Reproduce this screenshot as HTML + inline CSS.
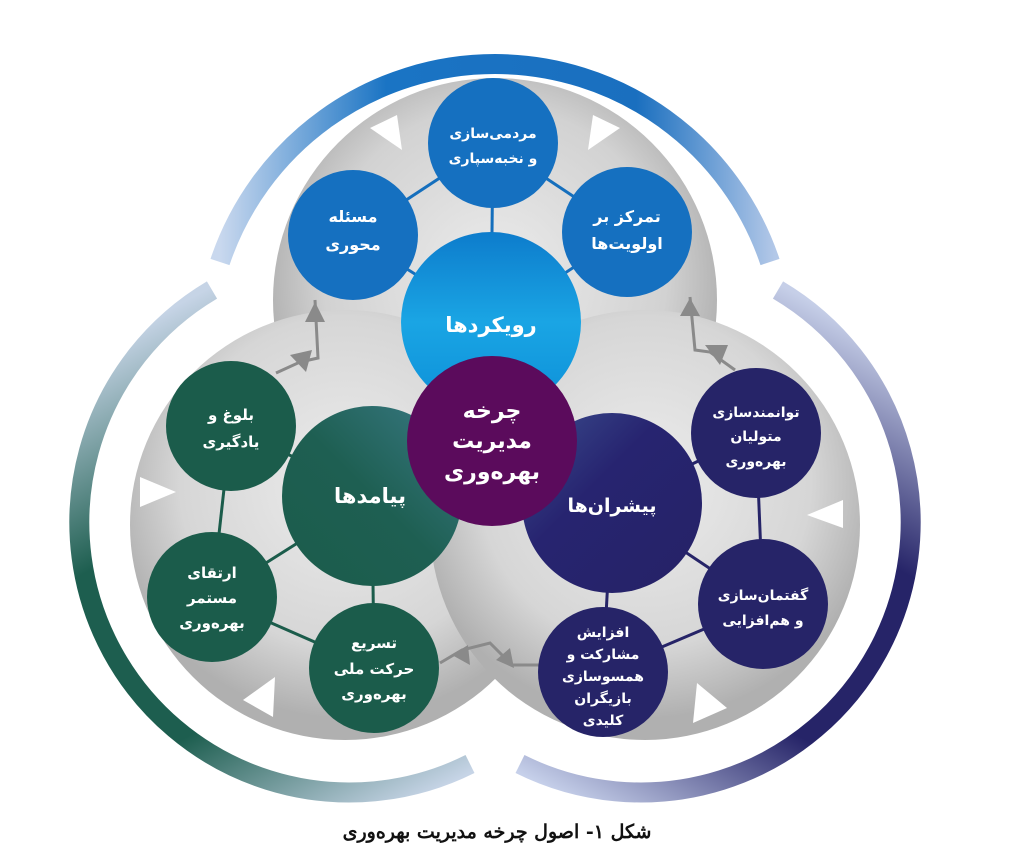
<!DOCTYPE html>
<html><head><meta charset="utf-8"><style>
html,body{margin:0;padding:0;background:#fff;width:1015px;height:861px;overflow:hidden}
svg text{font-family:"DejaVu Sans",sans-serif;font-weight:bold;fill:#fff;text-anchor:middle;direction:rtl}
</style></head><body>
<svg width="1015" height="861" viewBox="0 0 1015 861">
<defs>
<radialGradient id="gr" cx="50%" cy="45%" r="55%"><stop offset="0" stop-color="#ececec"/><stop offset="0.7" stop-color="#d2d2d2"/><stop offset="1" stop-color="#a9a9a9"/></radialGradient>
<radialGradient id="gr2" cx="50%" cy="40%" r="55%"><stop offset="0" stop-color="#ececec"/><stop offset="0.7" stop-color="#d6d6d6"/><stop offset="1" stop-color="#b0b0b0"/></radialGradient>
<linearGradient id="gb" gradientUnits="userSpaceOnUse" x1="220" y1="0" x2="775" y2="0"><stop offset="0" stop-color="#c9d8ee"/><stop offset="0.3" stop-color="#1a74c4"/><stop offset="0.75" stop-color="#1a6fbf"/><stop offset="1" stop-color="#b3c8e8"/></linearGradient>
<linearGradient id="gg" gradientUnits="userSpaceOnUse" x1="215" y1="285" x2="475" y2="770"><stop offset="0" stop-color="#c6d4e6"/><stop offset="0.35" stop-color="#1d5e4f"/><stop offset="0.7" stop-color="#1d5e4f"/><stop offset="1" stop-color="#c6d4e6"/></linearGradient>
<linearGradient id="gn" gradientUnits="userSpaceOnUse" x1="780" y1="285" x2="515" y2="770"><stop offset="0" stop-color="#c6cfe8"/><stop offset="0.35" stop-color="#262468"/><stop offset="0.7" stop-color="#262468"/><stop offset="1" stop-color="#c6d0ea"/></linearGradient>
<linearGradient id="lb" x1="0" y1="0" x2="0" y2="1"><stop offset="0" stop-color="#0d7ccc"/><stop offset="0.5" stop-color="#1aa5e4"/><stop offset="1" stop-color="#0c8fd8"/></linearGradient>
<linearGradient id="pg" x1="1" y1="0" x2="0" y2="1"><stop offset="0" stop-color="#3a7a86"/><stop offset="0.5" stop-color="#1e5f52"/><stop offset="1" stop-color="#1b5c4b"/></linearGradient>
<linearGradient id="pn" x1="0" y1="0" x2="1" y2="1"><stop offset="0" stop-color="#3b4e8e"/><stop offset="0.4" stop-color="#272470"/><stop offset="1" stop-color="#252266"/></linearGradient>
</defs>

<!-- outer arcs -->
<path d="M220,262 A290,290 0 0 1 770,262" fill="none" stroke="url(#gb)" stroke-width="20"/>
<path d="M212,290 A270,270 0 0 0 470,764" fill="none" stroke="url(#gg)" stroke-width="20"/>
<path d="M778,290 A270,270 0 0 1 520,764" fill="none" stroke="url(#gn)" stroke-width="20"/>

<!-- grey circles -->
<circle cx="495" cy="300" r="222" fill="url(#gr)"/>
<circle cx="345" cy="525" r="215" fill="url(#gr2)"/>
<circle cx="645" cy="525" r="215" fill="url(#gr2)"/>

<!-- white triangles -->
<polygon points="370,128 397,115 402,150" fill="#fff"/>
<polygon points="620,128 593,115 588,150" fill="#fff"/>
<polygon points="140,477 140,507 176,492" fill="#fff"/>
<polygon points="243,700 275,677 273,717" fill="#fff"/>
<polygon points="693,723 697,683 727,708" fill="#fff"/>
<polygon points="843,500 843,528 807,515" fill="#fff"/>

<!-- grey arrow connectors -->
<g stroke="#8a8a8a" stroke-width="3" fill="none">
<polyline points="276,373 300,362 318,358 315,300"/>
<polyline points="690,297 695,350 710,352 735,370"/>
<polyline points="440,663 462,650 490,643 512,665 540,665"/>
</g>
<g fill="#8a8a8a">
<polygon points="305,322 325,322 315,302"/>
<polygon points="290,355 306,372 312,350"/>
<polygon points="680,316 700,316 690,298"/>
<polygon points="705,345 720,365 728,345"/>
<polygon points="452,655 470,665 468,645"/>
<polygon points="496,660 514,668 510,648"/>
</g>

<!-- connector lines -->
<g stroke="#156fbd" stroke-width="3">
<line x1="493" y1="143" x2="353" y2="235"/><line x1="493" y1="143" x2="627" y2="232"/><line x1="493" y1="143" x2="491" y2="322"/>
<line x1="353" y1="235" x2="491" y2="322"/><line x1="627" y1="232" x2="491" y2="322"/>
</g>
<g stroke="#1b5c4b" stroke-width="3">
<line x1="231" y1="426" x2="212" y2="597"/><line x1="212" y1="597" x2="374" y2="668"/>
<line x1="231" y1="426" x2="372" y2="496"/><line x1="212" y1="597" x2="372" y2="496"/><line x1="374" y1="668" x2="372" y2="496"/>
</g>
<g stroke="#262468" stroke-width="3">
<line x1="756" y1="433" x2="763" y2="604"/><line x1="763" y1="604" x2="603" y2="672"/>
<line x1="756" y1="433" x2="612" y2="503"/><line x1="603" y1="672" x2="612" y2="503"/><line x1="763" y1="604" x2="612" y2="503"/>
</g>

<circle cx="493" cy="143" r="65" fill="#1570c0"/>
<circle cx="353" cy="235" r="65" fill="#1570c0"/>
<circle cx="627" cy="232" r="65" fill="#1570c0"/>
<circle cx="491" cy="322" r="90" fill="url(#lb)"/>
<circle cx="372" cy="496" r="90" fill="url(#pg)"/>
<circle cx="612" cy="503" r="90" fill="url(#pn)"/>
<circle cx="492" cy="441" r="85" fill="#5b0b5c"/>
<circle cx="231" cy="426" r="65" fill="#1b5c4b"/>
<circle cx="212" cy="597" r="65" fill="#1b5c4b"/>
<circle cx="374" cy="668" r="65" fill="#1b5c4b"/>
<circle cx="756" cy="433" r="65" fill="#262468"/>
<circle cx="763" cy="604" r="65" fill="#262468"/>
<circle cx="603" cy="672" r="65" fill="#262468"/>

<!-- labels -->
<g font-size="14">
<text x="493" y="138">مردمی‌سازی</text><text x="493" y="163">و نخبه‌سپاری</text>
<text x="353" y="222" font-size="16">مسئله</text><text x="353" y="250" font-size="16">محوری</text>
<text x="627" y="222" font-size="16">تمرکز بر</text><text x="627" y="249" font-size="16">اولویت‌ها</text>
<text x="231" y="420" font-size="15">بلوغ و</text><text x="231" y="447" font-size="15">یادگیری</text>
<text x="212" y="578" font-size="15">ارتقای</text><text x="212" y="603" font-size="15">مستمر</text><text x="212" y="628" font-size="15">بهره‌وری</text>
<text x="374" y="648" font-size="15">تسریع</text><text x="374" y="674" font-size="15">حرکت ملی</text><text x="374" y="699" font-size="15">بهره‌وری</text>
<text x="756" y="417">توانمندسازی</text><text x="756" y="441">متولیان</text><text x="756" y="466">بهره‌وری</text>
<text x="763" y="600">گفتمان‌سازی</text><text x="763" y="625">و هم‌افزایی</text>
<text x="603" y="637">افزایش</text><text x="603" y="659">مشارکت و</text><text x="603" y="681">همسوسازی</text><text x="603" y="703">بازیگران</text><text x="603" y="725">کلیدی</text>
</g>
<text x="491" y="332" font-size="21">رویکردها</text>
<text x="370" y="503" font-size="21">پیامدها</text>
<text x="612" y="512" font-size="19">پیشران‌ها</text>
<text x="492" y="418" font-size="22">چرخه</text><text x="492" y="448" font-size="22">مدیریت</text><text x="492" y="479" font-size="22">بهره‌وری</text>

<text x="497" y="838" font-size="19" style="font-family:'DejaVu Serif',serif;fill:#111">شکل ۱- اصول چرخه مدیریت بهره‌وری</text>
</svg>
</body></html>
